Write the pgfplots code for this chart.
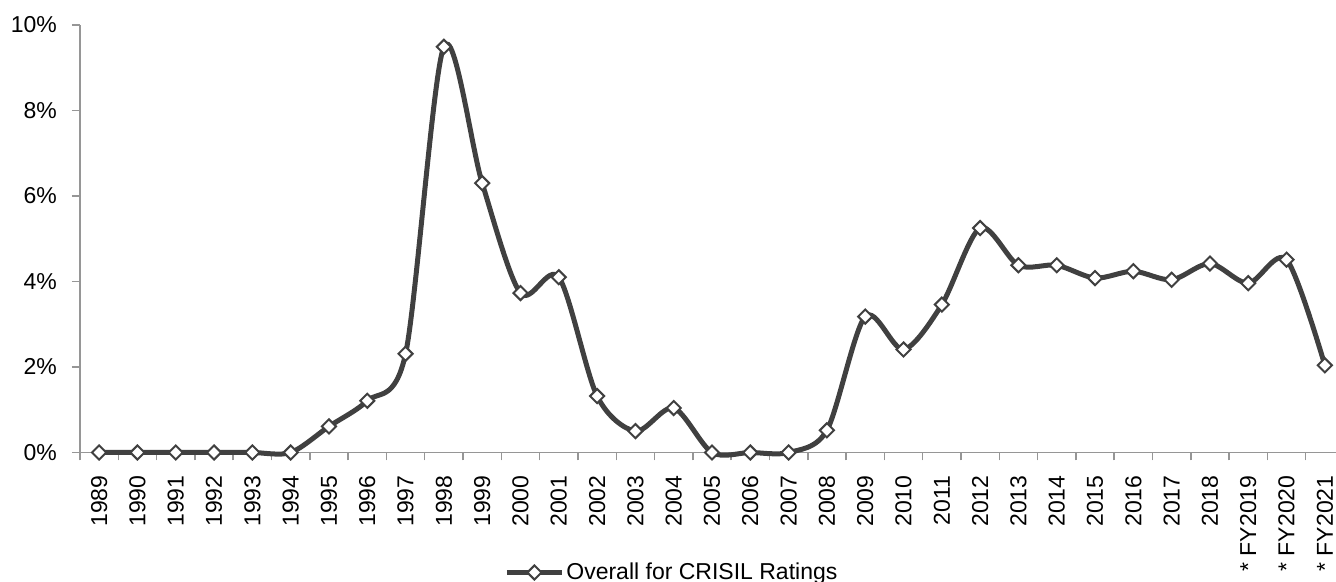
\documentclass[border=0pt]{standalone}
\usepackage{fontspec}
\setmainfont{Liberation Sans}
\usepackage{pgfplots}
\pgfplotsset{compat=1.18}
\definecolor{linegray}{HTML}{404040}
\definecolor{axisgray}{HTML}{969696}

\begin{document}
\begin{tikzpicture}
\begin{axis}[
  width=632pt,
  height=213.75pt,
  scale only axis,
  xmin=-0.5, xmax=32.5,
  ymin=0, ymax=10,
  axis x line*=bottom,
  axis y line*=left,
  axis line style={axisgray, line width=0.75pt},
  tick style={axisgray, line width=0.75pt},
  tick align=outside,
  major tick length=4pt,
  ytick={0,2,4,6,8,10},
  yticklabels={0\%,2\%,4\%,6\%,8\%,10\%},
  xtick={-0.5,0.5,...,32.5},
  x tick label as interval,
  xticklabels={1989,1990,1991,1992,1993,1994,1995,1996,1997,1998,1999,2000,2001,2002,2003,2004,2005,2006,2007,2008,2009,2010,2011,2012,2013,2014,2015,2016,2017,2018,* FY2019,* FY2020,* FY2021},
  tick label style={font=\fontsize{11.5}{13}\selectfont, black},
  xticklabel style={rotate=90, anchor=east, xshift=-4pt},
  yticklabel style={xshift=-4pt},
  /pgf/number format/assume math mode=true,
  legend style={draw=none, fill=none, at={(axis description cs:0,0)}, anchor=west,
    xshift=212pt, yshift=-60pt, font=\fontsize{11.5}{13}\selectfont, inner sep=0pt,
    nodes={inner sep=1pt}},
  legend image code/.code={\draw[#1, mark repeat=2, mark phase=2] plot coordinates {(0pt,0pt) (13.75pt,0pt) (27.5pt,0pt)};},
  clip=false,
]
\addplot[linegray, line width=2.5pt, smooth, mark=square*, mark size=2.5pt,
  mark options={rotate=45, fill=white, draw=linegray, line width=1pt}]
  coordinates {
  (0,0) (1,0) (2,0) (3,0) (4,0) (5,0)
  (6,0.61) (7,1.21) (8,2.31) (9,9.49) (10,6.30)
  (11,3.73) (12,4.10) (13,1.32) (14,0.50) (15,1.04)
  (16,0) (17,0) (18,0) (19,0.52) (20,3.18)
  (21,2.41) (22,3.46) (23,5.25) (24,4.38) (25,4.38)
  (26,4.08) (27,4.24) (28,4.04) (29,4.42) (30,3.96)
  (31,4.51) (32,2.04)
  };
\addlegendentry{Overall for CRISIL Ratings}
\coordinate (SW) at (rel axis cs:0,0);
\coordinate (NE) at (rel axis cs:1,1);
\end{axis}
\pgfresetboundingbox
\path[use as bounding box] ([shift={(-40pt,-64.75pt)}]SW) rectangle ([shift={(-4pt,12.5pt)}]NE);
\end{tikzpicture}
\end{document}
